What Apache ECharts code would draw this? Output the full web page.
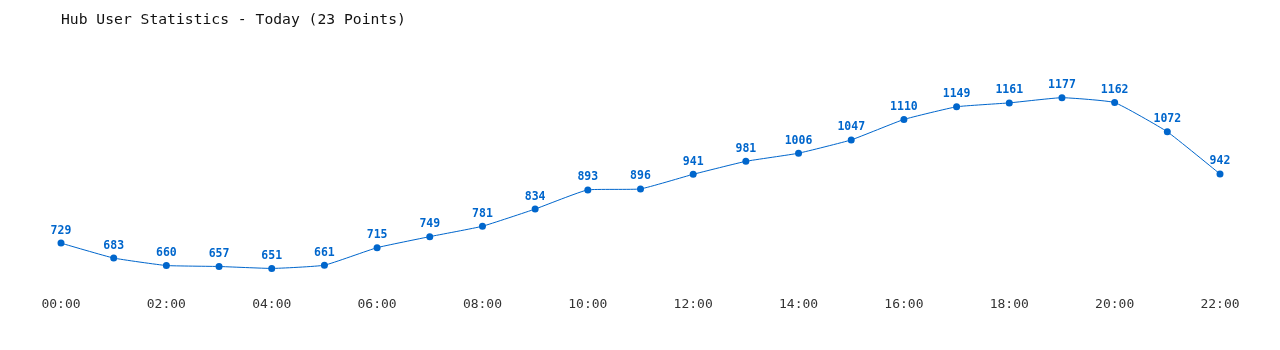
<!DOCTYPE html>
<html><head><meta charset="utf-8">
<script src="https://cdn.jsdelivr.net/npm/echarts@6/dist/echarts.min.js"></script>
<style>html,body{margin:0;padding:0;background:#fff}#c{width:1280px;height:350px}</style>
</head><body><div id="c"></div>
<script>
const categories = ["00:00","01:00","02:00","03:00","04:00","05:00","06:00","07:00","08:00","09:00","10:00","11:00","12:00","13:00","14:00","15:00","16:00","17:00","18:00","19:00","20:00","21:00","22:00"];
const users = [729,683,660,657,651,661,715,749,781,834,893,896,941,981,1006,1047,1110,1149,1161,1177,1162,1072,942];
const titleText = "Hub User Statistics - Today (23 Points)";

const chart = echarts.init(document.getElementById('c'), null, {renderer:'canvas'});
chart.setOption({
  animation:false,
  backgroundColor:'#ffffff',
  title:{text:titleText,left:56,top:8,textStyle:{fontFamily:'DejaVu Sans Mono',fontSize:14.7,fontWeight:'normal',color:'#111'}},
  grid:{left:61,right:60,top:74,bottom:65},
  xAxis:{type:'category',data:categories,boundaryGap:false,
    axisLine:{show:false},axisTick:{show:false},splitLine:{show:false},
    axisLabel:{interval:1,margin:13,fontFamily:'DejaVu Sans Mono',fontSize:13,color:'#333'}},
  yAxis:{type:'value',min:600,max:1250,show:false,splitLine:{show:false}},
  series:[{type:'line',data:users,smooth:0.12,
    lineStyle:{color:'#0066cc',width:1},
    itemStyle:{color:'#0066cc'},symbol:'circle',symbolSize:7,
    label:{show:true,position:'top',distance:3,fontFamily:'DejaVu Sans Mono',fontWeight:'bold',fontSize:11.5,color:'#0066cc'}}]
});
</script></body></html>
